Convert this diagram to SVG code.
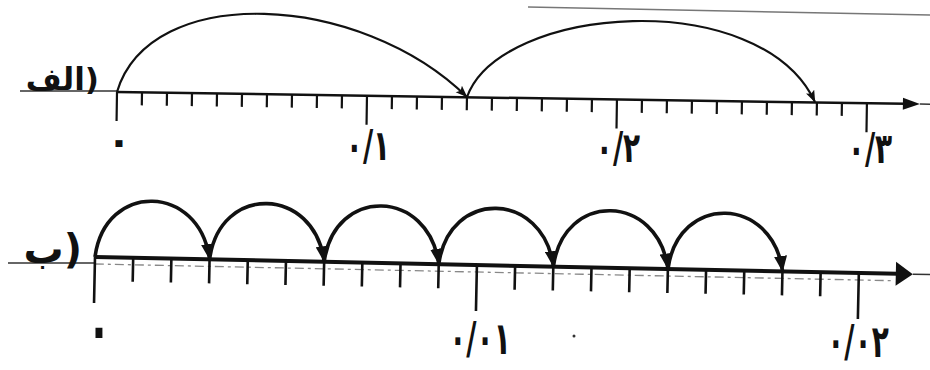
<svg xmlns="http://www.w3.org/2000/svg" width="930" height="370" viewBox="0 0 930 370">
<style>
.bg{fill:#fff}
.axA{stroke:#111;stroke-width:2.5;fill:none}
.axB{stroke:#111;stroke-width:4;fill:none}
.tkA{stroke:#111;stroke-width:2.2;fill:none}
.tkB{stroke:#111;stroke-width:2.6;fill:none}
.thin{stroke:#333;stroke-width:1.5;fill:none}
.ghost{stroke:#888;stroke-width:1.3;fill:none;stroke-dasharray:9 4 3 4}
.arcA{stroke:#111;stroke-width:2.2;fill:none;marker-end:url(#hA)}
.arcB{stroke:#111;stroke-width:3.6;fill:none;marker-end:url(#hB)}
.lbl{font-family:"DejaVu Sans",sans-serif;font-weight:bold;fill:#111}
.num{font-family:"DejaVu Sans",sans-serif;font-weight:bold;fill:#111;text-anchor:middle}
</style>
<defs>
<marker id="hA" markerUnits="userSpaceOnUse" viewBox="0 0 12 10" markerWidth="12" markerHeight="10" refX="11.5" refY="5" orient="auto"><path d="M0,0.5 L12,5 L0,9.5 L2.5,5 z" fill="#111"/></marker>
<marker id="hB" markerUnits="userSpaceOnUse" viewBox="0 0 16 13" markerWidth="16" markerHeight="13" refX="15.5" refY="6.5" orient="auto"><path d="M0,0 L16,6.5 L0,13 z" fill="#111"/></marker>
</defs>
<rect class="bg" x="0" y="0" width="930" height="370"/>
<path d="M528,7 L930,15" stroke="#777" stroke-width="1.5" fill="none"/>

<g id="lineA">
<path class="thin" d="M20,91 L117,91"/>
<g transform="rotate(0.86 117 92)">
<path class="axA" d="M117,92 L906,92"/>
<polygon points="903,86 920,92 903,98" fill="#111"/>
<path class="thin" d="M920,92 L932,92"/>
<path class="tkA" d="M117,92 v29 M367,92 v29 M617,92 v29 M867,92 v29"/>
<path class="tkA" d="M142,92 v13 M167,92 v13 M192,92 v13 M217,92 v13 M242,92 v13 M267,92 v13 M292,92 v13 M317,92 v13 M342,92 v13 M392,92 v13 M417,92 v13 M442,92 v13 M467,92 v13 M492,92 v13 M517,92 v13 M542,92 v13 M567,92 v13 M592,92 v13 M642,92 v13 M667,92 v13 M692,92 v13 M717,92 v13 M742,92 v13 M767,92 v13 M792,92 v13 M817,92 v13 M842,92 v13"/>
</g>
<text class="lbl" x="99" y="90" font-size="31" text-anchor="end">الف)</text>
<text class="num" x="119" y="155" font-size="40">۰</text>
<text class="num" transform="translate(368,160) scale(1,1.5)" font-size="28">۰/۱</text>
<text class="num" transform="translate(618,162) scale(1,1.5)" font-size="28">۰/۲</text>
<text class="num" transform="translate(870,163) scale(1,1.5)" font-size="28">۰/۳</text>
</g>

<g id="lineB">
<path class="thin" d="M8,263 L95,263"/>
<g transform="rotate(1.2 95 257)">
<path class="ghost" d="M95,264 L895,264"/>
<path class="axB" d="M95,257 L898,257"/>
<polygon points="896,245 913,257 896,269" fill="#111"/>
<path class="thin" d="M913,257 L935,257"/>
<path class="tkB" d="M95,257 v46 M477,257 v46 M859,257 v46"/>
<path class="tkB" d="M133.2,257 v24 M171.4,257 v24 M209.6,257 v24 M247.8,257 v24 M286,257 v24 M324.2,257 v24 M362.4,257 v24 M400.6,257 v24 M438.8,257 v24 M515.2,257 v24 M553.4,257 v24 M591.6,257 v24 M629.8,257 v24 M668,257 v24 M706.2,257 v24 M744.4,257 v24 M782.6,257 v24 M820.8,257 v24"/>
</g>
<text class="lbl" x="82" y="263" font-size="40" text-anchor="end">ب)</text>
<text class="num" transform="translate(99,350) scale(1,1.5)" font-size="40">۰</text>
<text class="num" transform="translate(480,354) scale(1,1.6)" font-size="28">۰/۰۱</text>
<text class="num" transform="translate(858,357) scale(1,1.6)" font-size="28">۰/۰۲</text>
<circle cx="574" cy="336" r="1.5" fill="#333"/>
</g>

<g id="connectors">
<path class="arcA" d="M117,92 C150,-18 360,-8 467,97"/>
<path class="arcA" d="M467,97 C500,5 760,-15 815,102"/>
<path class="arcB" d="M95,257 C105,181 199.6,183.4 209.6,259.4"/>
<path class="arcB" d="M209.6,259.4 C219.6,183.4 314.2,185.8 324.2,261.8"/>
<path class="arcB" d="M324.2,261.8 C334.2,185.8 428.8,188.2 438.8,264.2"/>
<path class="arcB" d="M438.8,264.2 C448.8,188.2 543.4,190.6 553.4,266.6"/>
<path class="arcB" d="M553.4,266.6 C563.4,190.6 658,193 668,269"/>
<path class="arcB" d="M668,269 C678,193 772.6,195.4 782.6,271.4"/>
</g>
</svg>
